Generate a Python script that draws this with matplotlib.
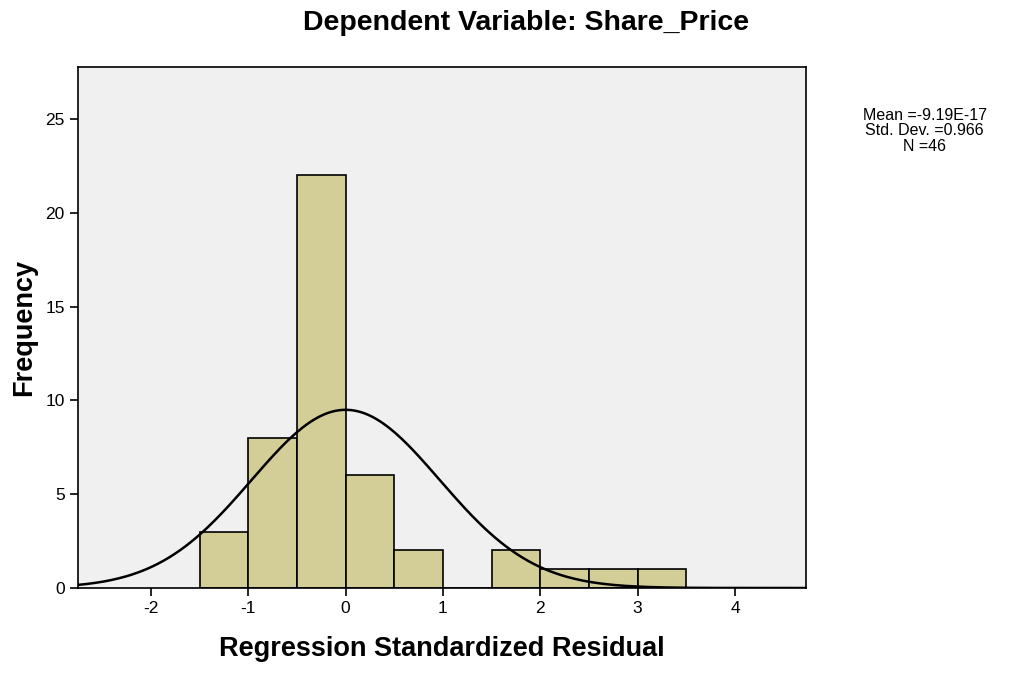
import numpy as np
import matplotlib
matplotlib.use("Agg")
import matplotlib.pyplot as plt

plt.rcParams['font.family'] = ['Liberation Sans', 'DejaVu Sans']
plt.rcParams['axes.unicode_minus'] = False

# histogram bins (left edges) and counts
bin_edges = [-1.5, -1.0, -0.5, 0.0, 0.5, 1.0, 1.5, 2.0, 2.5, 3.0, 3.5]
counts = [3, 8, 22, 6, 2, 0, 2, 1, 1, 1]

mean = -9.19e-17
std = 0.966
n = 46

fig = plt.figure(figsize=(10.16, 6.73), dpi=100)
ax = fig.add_axes([0.0768, 0.1263, 0.7165, 0.7741])
ax.set_facecolor('#F0F0F0')

widths = np.diff(bin_edges)
ax.bar(bin_edges[:-1], counts, width=widths, align='edge',
       color='#D3CE97', edgecolor='black', linewidth=1.2, zorder=2)

# normal curve
xs = np.linspace(-2.75, 4.73, 400)
bw = widths[0]
ys = n * bw / (std * np.sqrt(2 * np.pi)) * np.exp(-0.5 * ((xs - mean) / std) ** 2)
ax.plot(xs, ys, color='black', linewidth=1.8, zorder=3)

ax.set_xlim(-2.75, 4.73)
ax.set_ylim(0, 27.77)
ax.set_xticks([-2, -1, 0, 1, 2, 3, 4])
ax.set_yticks([0, 5, 10, 15, 20, 25])
ax.tick_params(direction='out', length=6, width=1.2, labelsize=12.5)
for s in ax.spines.values():
    s.set_linewidth(1.2)

ax.set_xlabel('Regression Standardized Residual', fontsize=19.5, fontweight='bold', labelpad=14)
ax.set_ylabel('Frequency', fontsize=19.5, fontweight='bold', labelpad=6)
fig.suptitle('Dependent Variable: Share_Price', fontsize=20.5, fontweight='bold',
             x=0.518, y=0.985)

fig.text(0.910, 0.84, 'Mean =-9.19E-17\nStd. Dev. =0.966\nN =46',
         ha='center', va='top', fontsize=11.5, linespacing=1.05)

fig.savefig('out.png', dpi=100)
